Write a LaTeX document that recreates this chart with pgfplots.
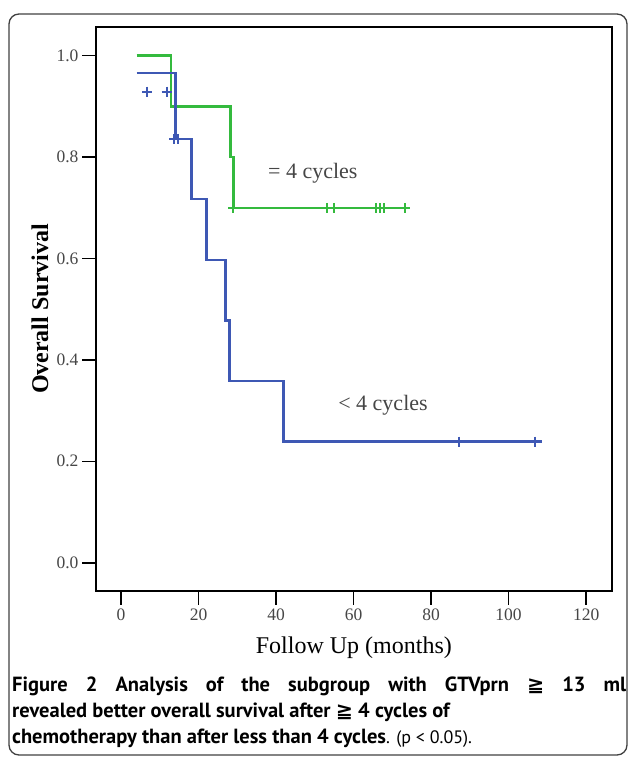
\documentclass[border=0pt]{standalone}
\usepackage{pgfplots}
\pgfplotsset{compat=1.18}
\usepackage{fontspec}
\setmainfont{Liberation Serif}
\newfontfamily\capfont{PT Sans}
\newfontfamily\symfont{DejaVu Sans}
\definecolor{kmgreen}{RGB}{52,186,62}
\definecolor{kmblue}{RGB}{62,88,180}
\definecolor{txtgray}{RGB}{70,70,70}

\begin{document}
\begin{tikzpicture}[x=1pt,y=1pt]
\useasboundingbox (0,0) rectangle (627,757);
\draw[rounded corners=10pt, line width=1.3pt, black!75] (9,2) rectangle (627,743);
\begin{axis}[
  at={(96pt,166pt)}, anchor=south west,
  scale only axis, width=515.7pt, height=564pt,
  xmin=-6.45, xmax=126.6, ymin=-0.0558, ymax=1.0566,
  axis line style={line width=1.6pt},
  xtick={0,20,40,60,80,100,120},
  ytick={0,0.2,0.4,0.6,0.8,1.0},
  xtick pos=bottom, ytick pos=left, tick align=outside,
  major tick length=14pt,
  tick style={line width=1.6pt, black},
  /pgf/number format/assume math mode=true,
  yticklabel style={/pgf/number format/.cd, fixed, fixed zerofill, precision=1},
  ticklabel style={font=\fontsize{17.5}{20}\selectfont, text=txtgray},
  xlabel={Follow Up (months)},
  xlabel style={at={(axis description cs:0.5,-0.101)}, anchor=center,
    font=\fontsize{24}{28}\selectfont},
  ylabel={Overall Survival},
  ylabel style={at={(axis description cs:-0.1086,0.5)}, anchor=center,
    font=\fontsize{24}{28}\selectfont\bfseries},
  clip=false,
]
% >= 4 cycles
\addplot[const plot, color=kmgreen, line width=2.4pt] coordinates {
  (4,1.0)(12.9,0.9)(28.3,0.8)(29.0,0.7)(73.3,0.7)
};
\addplot[only marks, mark=+, mark size=5pt, color=kmgreen,
  mark options={line width=2pt}] coordinates {
  (29.0,0.7)(53.1,0.7)(55.0,0.7)(65.8,0.7)(66.8,0.7)(67.9,0.7)(73.3,0.7)
};
% < 4 cycles
\addplot[const plot, color=kmblue, line width=2.4pt] coordinates {
  (4,0.966)(14.1,0.836)(18.2,0.717)(22.1,0.597)(27.0,0.478)(28.0,0.358)(41.9,0.239)(108.6,0.239)
};
\addplot[only marks, mark=+, mark size=5pt, color=kmblue,
  mark options={line width=2pt}] coordinates {
  (6.8,0.929)(11.8,0.929)(13.8,0.836)(14.6,0.836)(87.1,0.239)(106.8,0.239)
};
\node[font=\fontsize{22}{26}\selectfont, text=txtgray] at (axis cs:49.5,0.769) {= 4 cycles};
\node[font=\fontsize{22}{26}\selectfont, text=txtgray] at (axis cs:67.6,0.311) {< 4 cycles};
\end{axis}
\node[anchor=base west, inner sep=0pt, font=\capfont\fontsize{20.5}{24}\selectfont] at (12,65)
  {\makebox[614pt][s]{\bfseries Figure 2 Analysis of the subgroup with GTVprn {\symfont ≧} 13 ml}};
\node[anchor=base west, inner sep=0pt, font=\capfont\fontsize{20.5}{24}\selectfont] at (12,39)
  {\bfseries revealed better overall survival after {\symfont ≧} 4 cycles of};
\node[anchor=base west, inner sep=0pt, font=\capfont\fontsize{20.5}{24}\selectfont] at (12,13)
  {{\bfseries chemotherapy than after less than 4 cycles}{\fontsize{18}{22}\selectfont. (p < 0.05).}};
\end{tikzpicture}
\end{document}
